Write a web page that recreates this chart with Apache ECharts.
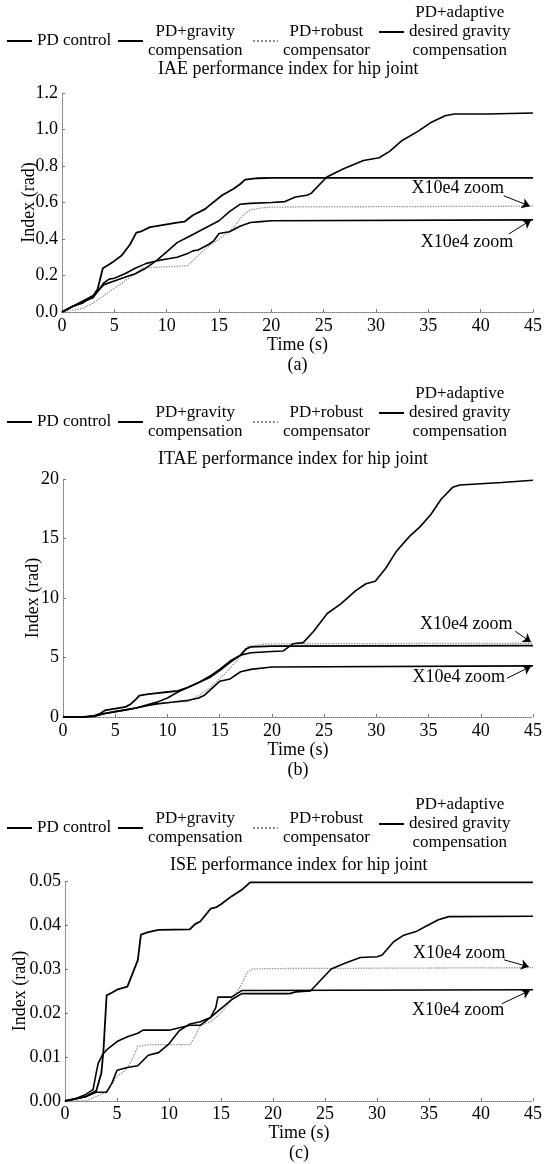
<!DOCTYPE html>
<html>
<head>
<meta charset="utf-8">
<script src="https://cdn.jsdelivr.net/npm/echarts@6/dist/echarts.min.js"></script>
<style>
html,body{margin:0;padding:0;background:#fff;}
#chart{width:545px;height:1164px;}
</style>
</head>
<body>
<div id="chart"></div>
<script>
// ---------------- DATA ----------------
const seriesNames = ['PD control', 'PD+gravity compensation', 'PD+robust compensator', 'PD+adaptive desired gravity compensation'];
const legendLines = [
  ['PD control'],
  ['PD+gravity', 'compensation'],
  ['PD+robust', 'compensator'],
  ['PD+adaptive', 'desired gravity', 'compensation']
];
const panelTitles = ['IAE performance index for hip joint', 'ITAE performance index for hip joint', 'ISE performance index for hip joint'];
const panelTags = ['(a)', '(b)', '(c)'];
const xAxisName = 'Time (s)';
const yAxisName = 'Index (rad)';
const annotationText = 'X10e4 zoom';

// IAE (a)
const iaeTimePD = [0,1,2,3,3.5,4,5,6,7,8,9,10,11,12,13,14,15,16,17,18,20,21.3,22.3,23.4,23.8,25.3,26.9,28.8,30.3,31.3,32.5,34,35.3,36.6,37.5,40.6,45];
const iaeValPD  = [0,0.03,0.05,0.09,0.12,0.15,0.17,0.19,0.21,0.24,0.28,0.33,0.38,0.41,0.44,0.47,0.50,0.55,0.59,0.595,0.60,0.605,0.63,0.64,0.65,0.74,0.785,0.83,0.845,0.88,0.94,0.99,1.04,1.075,1.085,1.085,1.09];
const iaeTimeGrav = [0,1,2,3,3.4,3.9,4.5,5,5.7,6.5,7.1,7.5,8.4,9,10,11,11.7,12.5,13.7,14,15.3,16.4,17,17.5,18.7,20,45];
const iaeValGrav  = [0,0.03,0.06,0.09,0.125,0.24,0.26,0.28,0.31,0.37,0.435,0.44,0.465,0.47,0.48,0.49,0.495,0.53,0.565,0.58,0.64,0.675,0.70,0.725,0.733,0.735,0.735];
const iaeTimeRob = [0,1,2,3,4,5,6,6.5,7,7.5,8,9,10,11,12,12.5,13,14,15,16,16.5,17,17.5,18,19,20,45];
const iaeValRob  = [0,0.01,0.02,0.05,0.09,0.13,0.17,0.19,0.21,0.235,0.245,0.245,0.248,0.25,0.255,0.28,0.31,0.36,0.40,0.44,0.47,0.51,0.54,0.56,0.57,0.575,0.58];
const iaeTimeAd = [0,1,2,3,3.5,4,4.5,5,6,7,8,9,10,11,12,12.5,13,14,14.5,15,16,17,18,19,20,45];
const iaeValAd  = [0,0.03,0.055,0.08,0.12,0.16,0.18,0.185,0.21,0.24,0.265,0.28,0.29,0.30,0.32,0.335,0.34,0.37,0.39,0.43,0.44,0.47,0.49,0.495,0.50,0.505];

// ITAE (b)
const itaeTimePD = [0,2,3,4,5,6,7,8,9,10,11,12,13,14,15,16,17,18,20,21.1,22,23,24,25.3,26.6,28,29,29.9,30.9,31.9,33.2,34.2,35.2,36.2,37.3,38,40,42,45];
const itaeValPD  = [0,0,0.1,0.3,0.45,0.6,0.75,1.0,1.25,1.6,2.1,2.5,2.9,3.4,4.0,4.7,5.2,5.4,5.5,5.55,6.15,6.25,7.2,8.7,9.5,10.6,11.2,11.4,12.5,13.9,15.2,16.0,17.0,18.3,19.3,19.5,19.6,19.7,19.9];
const itaeTimeGrav = [0,2,3,3.6,4,5,6,6.5,7,7.3,8,9,10,11,12,13,14,15,16,17,17.5,18,20,45];
const itaeValGrav  = [0,0,0.1,0.3,0.55,0.7,0.85,1.1,1.5,1.8,1.9,2.0,2.1,2.2,2.5,2.9,3.3,3.9,4.6,5.2,5.7,5.9,5.95,6.0];
const itaeTimeRob = [0,2,3,4,5,6,7,8,9,10,11,12,13,14,15,16,17,17.7,19,20,45];
const itaeValRob  = [0,0,0.05,0.3,0.45,0.6,0.75,0.95,1.15,1.2,1.25,1.3,1.8,2.4,3.2,4.1,5.1,5.9,6.1,6.15,6.2];
const itaeTimeAd = [0,2,3,4,5,6,7,8,9,10,11,12,13,13.5,14,14.5,15,16,17,18,20,45];
const itaeValAd  = [0,0,0.05,0.3,0.45,0.6,0.75,0.95,1.1,1.2,1.3,1.4,1.6,1.8,2.2,2.6,3.0,3.2,3.8,4.0,4.2,4.3];

// ISE (c)
const iseTimePD = [0,2,3,4,4.5,5,6,7,8,9,10,11,12,13,14,15,16,17,20,21.6,22.2,23.6,25.6,26.9,28.4,30,30.5,31.6,32.5,33.75,34.7,35.9,36.9,45];
const iseValPD  = [0,0.001,0.002,0.002,0.004,0.007,0.0076,0.008,0.0104,0.011,0.013,0.016,0.0175,0.018,0.019,0.021,0.023,0.0244,0.0244,0.0244,0.0248,0.025,0.030,0.0313,0.0326,0.0328,0.0332,0.0362,0.0376,0.0385,0.0397,0.0412,0.0419,0.042];
const iseTimeGrav = [0,2,3,3.5,3.7,4,4.5,5,6,6.5,7,7.3,8,9,12,12.5,13,14,14.5,15,16,17,17.8,20,45];
const iseValGrav  = [0,0.001,0.0023,0.0064,0.0116,0.024,0.0246,0.0253,0.026,0.029,0.032,0.0378,0.0384,0.0389,0.039,0.0402,0.0408,0.0437,0.044,0.0447,0.0465,0.048,0.0497,0.0497,0.0497];
const iseTimeRob = [0,2,3,4,5,5.5,6,6.5,7,8,12,12.5,13,14,15,16,16.5,17,17.5,18,20,45];
const iseValRob  = [0,0,0.001,0.002,0.0056,0.0064,0.0075,0.0097,0.0124,0.0128,0.0128,0.0146,0.0172,0.018,0.020,0.023,0.0247,0.0266,0.0292,0.030,0.0301,0.0303];
const iseTimeAd = [0,1,2,2.7,3,3.2,3.6,4,5,6,7,7.5,10,12,13,14,14.5,14.7,16,17,45];
const iseValAd  = [0,0.0005,0.0015,0.0026,0.0064,0.0086,0.0105,0.0116,0.0135,0.0146,0.0154,0.0161,0.0161,0.0172,0.0172,0.019,0.0212,0.0236,0.0236,0.0251,0.0253];

// axes
const xMin = 0, xMax = 45, xStep = 5;
const yMax = [1.2, 20, 0.05];
const yStep = [0.2, 5, 0.01];
const yDecimals = [1, 0, 2];

// annotation anchors (data coords): [textPoint, arrowStart, arrowEnd]
const annoTop = [
  [[37.8, 0.68], [42.2, 0.637], [44.7, 0.58]],
  [[38.6, 7.8], [43.3, 7.2], [44.8, 6.3]],
  [[37.9, 0.0336], [42.2, 0.0321], [44.6, 0.0305]]
];
const annoBottom = [
  [[38.7, 0.382], [42.7, 0.428], [44.8, 0.503]],
  [[37.9, 3.3], [42.5, 3.25], [44.8, 4.25]],
  [[37.8, 0.0206], [42.0, 0.0221], [44.7, 0.0251]]
];

// ---------------- LAYOUT / STYLE ----------------
const FONT = 'Liberation Serif';
const grids = [
  {left: 62, top: 93, width: 479, height: 219},
  {left: 63, top: 479, width: 478, height: 238},
  {left: 65, top: 881, width: 476, height: 222}
];
const titleTop = [60, 450, 856];
const titleLeft = [158, 158, 170];
const legendCenter = [[42, 42, 42, 33], [423, 423, 423, 414], [829, 829, 829, 825]];
const legendLeft = [6, 117, 252, 378];
const yNameGap = [24, 21, 36];
const xLabelMargin = [5, 5, 4];
const xNameGap = [23, 23, 22];

const lineStyles = [
  {color: '#000', width: 1.6, type: 'solid'},
  {color: '#000', width: 1.8, type: 'solid'},
  {color: '#8c8c8c', width: 1.3, type: 'dotted'},
  {color: '#000', width: 1.6, type: 'solid'}
];

const panelData = [
  [[iaeTimePD, iaeValPD], [iaeTimeGrav, iaeValGrav], [iaeTimeRob, iaeValRob], [iaeTimeAd, iaeValAd]],
  [[itaeTimePD, itaeValPD], [itaeTimeGrav, itaeValGrav], [itaeTimeRob, itaeValRob], [itaeTimeAd, itaeValAd]],
  [[iseTimePD, iseValPD], [iseTimeGrav, iseValGrav], [iseTimeRob, iseValRob], [iseTimeAd, iseValAd]]
];

const axisGray = '#777';

function annotation(anno) {
  return {
    markLine: {
      silent: true, animation: false,
      symbol: ['none', 'arrow'], symbolSize: 8,
      label: {show: false},
      lineStyle: {color: '#000', type: 'solid', width: 1},
      emphasis: {disabled: true},
      data: [[{coord: anno[1]}, {coord: anno[2]}]]
    },
    markPoint: {
      silent: true, animation: false,
      symbol: 'rect', symbolSize: 0,
      label: {show: true, position: 'inside', formatter: annotationText, color: '#000', fontFamily: FONT, fontSize: 18},
      data: [{coord: anno[0], value: annotationText}]
    }
  };
}

const option = {
  animation: false,
  backgroundColor: '#fff',
  textStyle: {fontFamily: FONT},
  title: panelTitles.map((t, i) => ({
    text: t, left: titleLeft[i], top: titleTop[i], padding: 0,
    textStyle: {fontFamily: FONT, fontSize: 18, fontWeight: 'normal', color: '#000'}
  })),
  legend: [],
  grid: grids.map(g => Object.assign({containLabel: false}, g)),
  xAxis: [], yAxis: [], series: []
};

for (let p = 0; p < 3; p++) {
  for (let k = 0; k < 4; k++) {
    const nLines = legendLines[k].length;
    const h = nLines * 19;
    option.legend.push({
      data: [seriesNames[k]],
      left: legendLeft[k], top: legendCenter[p][k] - h / 2,
      padding: 0, itemWidth: 25, itemHeight: 10,
      selectedMode: false,
      itemStyle: {opacity: 0},
      formatter: name => legendLines[seriesNames.indexOf(name)].map(l => '{c|' + l + '}').join('\n'),
      textStyle: {
        color: '#000', fontFamily: FONT, fontSize: 17,
        rich: {c: {align: 'center', fontFamily: FONT, fontSize: 17, lineHeight: 19, color: '#000'}}
      }
    });
  }
  option.xAxis.push({
    type: 'value', gridIndex: p, min: xMin, max: xMax, interval: xStep,
    axisLine: {show: true, onZero: false, lineStyle: {color: axisGray, type: 'dotted', width: 1}},
    axisTick: {show: true, inside: true, length: 3, lineStyle: {color: axisGray}},
    axisLabel: {color: '#000', fontFamily: FONT, fontSize: 18, margin: xLabelMargin[p]},
    splitLine: {show: false},
    name: xAxisName + '\n' + panelTags[p], nameLocation: 'middle', nameGap: xNameGap[p],
    nameMoveOverlap: false,
    nameTextStyle: {color: '#000', fontFamily: FONT, fontSize: 18, lineHeight: 20}
  });
  option.yAxis.push({
    type: 'value', gridIndex: p, min: 0, max: yMax[p], interval: yStep[p],
    axisLine: {show: true, onZero: false, lineStyle: {color: axisGray, type: 'dotted', width: 1}},
    axisTick: {show: true, inside: true, length: 3, lineStyle: {color: axisGray}},
    axisLabel: {color: '#000', fontFamily: FONT, fontSize: 18, margin: 4,
      formatter: v => v.toFixed(yDecimals[p])},
    splitLine: {show: false},
    name: yAxisName, nameLocation: 'middle', nameGap: yNameGap[p],
    nameMoveOverlap: false,
    nameTextStyle: {color: '#000', fontFamily: FONT, fontSize: 18}
  });
  [2, 0, 1, 3].forEach(k => {
    const [ts, vs] = panelData[p][k];
    const s = {
      type: 'line', name: seriesNames[k], xAxisIndex: p, yAxisIndex: p,
      data: ts.map((t, i) => [t, vs[i]]),
      symbol: 'none', showSymbol: false, smooth: false,
      lineStyle: lineStyles[k], itemStyle: {color: lineStyles[k].color},
      emphasis: {disabled: true}, silent: true, z: k === 2 ? 1 : 2
    };
    if (k === 2) Object.assign(s, annotation(annoTop[p]));
    if (k === 3) Object.assign(s, annotation(annoBottom[p]));
    option.series.push(s);
  });
}

const chart = echarts.init(document.getElementById('chart'), null, {renderer: 'canvas'});
chart.setOption(option);
</script>
</body>
</html>
